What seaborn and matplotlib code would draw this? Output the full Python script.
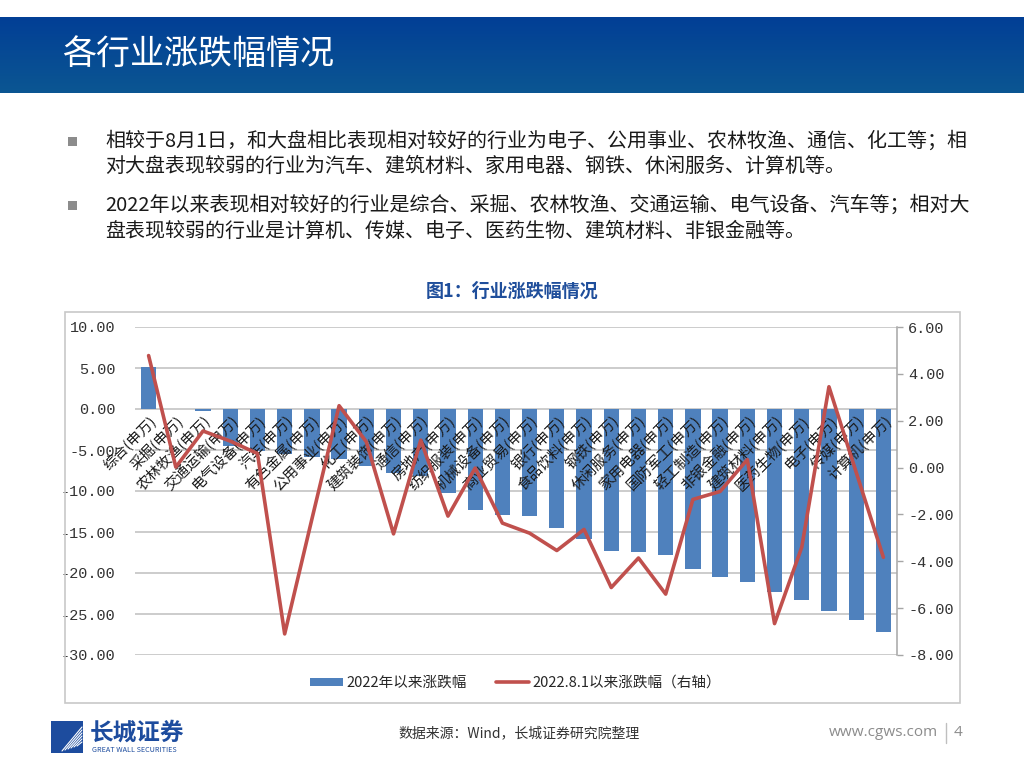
import numpy as np
import pandas as pd
import matplotlib
matplotlib.use("Agg")
import matplotlib.pyplot as plt
from matplotlib.patches import Rectangle
from matplotlib.lines import Line2D
from matplotlib.colors import LinearSegmentedColormap
import seaborn as sns

# ---------------- data ----------------
categories = ['综合', '采掘', '农林牧渔', '交通运输', '电气设备', '汽车', '有色金属', '公用事业',
              '化工', '建筑装饰', '通信', '房地产', '纺织服装', '机械设备', '商业贸易', '银行',
              '食品饮料', '钢铁', '休闲服务', '家用电器', '国防军工', '轻工制造', '非银金融',
              '建筑材料', '医药生物', '电子', '传媒', '计算机']
tick_labels = [c + '(申万)' for c in categories]
chg_2022 = [5.1, 0.05, -0.3, -4.5, -5.1, -5.5, -5.9, -6.1, -7.0, -7.85, -8.15, -10.3,
            -12.3, -12.95, -13.05, -14.55, -15.8, -17.35, -17.45, -17.75, -19.55, -20.5,
            -21.1, -22.3, -23.3, -24.65, -25.75, -27.2]
chg_0801 = [4.78, 0.02, 1.56, 1.13, 0.6, -7.1, -2.2, 2.64, 1.1, -2.83, 1.17, -2.07,
            -0.02, -2.37, -2.8, -3.54, -2.64, -5.12, -3.86, -5.4, -1.36, -1.02, 0.34,
            -6.66, -3.4, 3.45, -0.2, -3.83]
left_ticks = [10, 5, 0, -5, -10, -15, -20, -25, -30]
right_ticks = [6, 4, 2, 0, -2, -4, -6, -8]
series_names = ['2022年以来涨跌幅', '2022.8.1以来涨跌幅（右轴）']

title = '各行业涨跌幅情况'
bullet_lines = [
    ['相较于8月1日，和大盘相比表现相对较好的行业为电子、公用事业、农林牧渔、通信、化工等；相',
     '对大盘表现较弱的行业为汽车、建筑材料、家用电器、钢铁、休闲服务、计算机等。'],
    ['2022年以来表现相对较好的行业是综合、采掘、农林牧渔、交通运输、电气设备、汽车等；相对大',
     '盘表现较弱的行业是计算机、传媒、电子、医药生物、建筑材料、非银金融等。'],
]
fig_caption = '图1：行业涨跌幅情况'
source = '数据来源：Wind，长城证券研究院整理'

BAR_C = '#4f81bd'
LINE_C = '#c0504d'
GRID_C = '#bfbfbf'

sns.set_style('white')
plt.rcParams['font.family'] = ['Noto Sans CJK SC', 'DejaVu Sans']
plt.rcParams['axes.unicode_minus'] = False

W, H = 1024, 768
fig = plt.figure(figsize=(W / 100, H / 100), dpi=100)


def fx(px):
    return px / W


def fy(py):
    return 1 - py / H


# ---------------- header band ----------------
hax = fig.add_axes([0, fy(93), 1, (93 - 17) / H])
grad = np.linspace(0, 1, 100).reshape(-1, 1)
cmap = LinearSegmentedColormap.from_list('hb', ['#023f96', '#0b5692'])
hax.imshow(grad, aspect='auto', cmap=cmap, extent=[0, 1, 0, 1], origin='upper')
hax.set_axis_off()
fig.text(fx(62), fy(55), title, color='white', fontsize=24.5, va='center', ha='left')

# ---------------- bullet text ----------------
ys = [(141, 166), (205, 231)]
for (y1, y2), lines in zip(ys, bullet_lines):
    fig.patches.append(Rectangle((fx(68), fy(y1 + 5)), 9 / W, 9 / H, transform=fig.transFigure,
                                 facecolor='#8c8c8c', edgecolor='none'))
    fig.text(fx(105), fy(y1), lines[0], fontsize=14.4, va='center', ha='left', color='#1a1a1a')
    fig.text(fx(105), fy(y2), lines[1], fontsize=14.4, va='center', ha='left', color='#1a1a1a')

fig.text(fx(512), fy(291), fig_caption, fontsize=13, fontweight='bold', color='#1f4e9b',
         ha='center', va='center')

# chart frame
fig.patches.append(Rectangle((fx(65), fy(703)), (960 - 65) / W, (703 - 312) / H,
                             transform=fig.transFigure, facecolor='none',
                             edgecolor='#c8c8c8', linewidth=1.2))

# ---------------- chart ----------------
ax = fig.add_axes([fx(135), fy(655), (897 - 135) / W, (655 - 327) / H])
pos = np.arange(len(categories))
df = pd.DataFrame({'label': tick_labels, 'v2022': chg_2022, 'v0801': chg_0801, 'pos': pos})
sns.barplot(data=df, x='label', y='v2022', color=BAR_C, saturation=1, width=0.56,
            linewidth=0, ax=ax, zorder=1)
ax.set_ylim(-30, 10)
ax.set_yticks(left_ticks)
ax.set_yticklabels([f'{t:.2f}' for t in left_ticks], fontsize=11, family='Liberation Mono',
                   color='#333333')
ax.yaxis.grid(True, color=GRID_C, linewidth=1.1)
ax.set_axisbelow(True)
ax.xaxis.set_zorder(3)
ax.tick_params(axis='y', length=0, pad=14)
ax.tick_params(axis='x', length=0, pad=3)
for s in ['top', 'left', 'right']:
    ax.spines[s].set_visible(False)
ax.spines['bottom'].set_position(('data', 0))
ax.spines['bottom'].set_color('none')
ax.set_xlabel('')
ax.set_ylabel('')
for lab in ax.get_xticklabels():
    lab.set_rotation(45)
    lab.set_ha('right')
    lab.set_va('top')
    lab.set_rotation_mode('anchor')
    lab.set_fontsize(10.5)
    lab.set_fontweight('light')
    lab.set_color('#1a1a1a')

ax2 = ax.twinx()
sns.lineplot(data=df, x='pos', y='v0801', color=LINE_C, linewidth=2.6, ax=ax2)
ax2.set_ylim(-8, 6)
ax2.set_yticks(right_ticks)
ax2.set_yticklabels([f'{t:.2f}' for t in right_ticks], fontsize=11, family='Liberation Mono',
                    color='#333333')
ax2.tick_params(axis='y', length=4, width=1, color='#a6a6a6', pad=4, direction='out')
for s in ['top', 'left', 'bottom']:
    ax2.spines[s].set_visible(False)
ax2.spines['right'].set_color('#a6a6a6')
ax2.spines['right'].set_linewidth(1.1)
ax2.set_ylabel('')
ax2.set_xlabel('')
ax2.grid(False)
ax.set_xlim(-0.5, len(categories) - 0.5)

handles = [Rectangle((0, 0), 1, 1, facecolor=BAR_C, edgecolor='none'),
           Line2D([0], [0], color=LINE_C, linewidth=2.6)]
fig.legend(handles, series_names, loc='center', bbox_to_anchor=(fx(516), fy(683)),
           ncol=2, frameon=False, fontsize=10.5, handlelength=2.2, handleheight=0.5,
           columnspacing=2.0, handletextpad=0.3)

# ---------------- footer ----------------
fig.patches.append(Rectangle((fx(51), fy(753)), 32 / W, 32 / H, transform=fig.transFigure,
                             facecolor='#1d4c9e', edgecolor='none'))
for k in range(6):
    fig.lines.append(Line2D([fx(62 + k * 3), fx(82)], [fy(751 - k), fy(727 + k * 3)],
                            transform=fig.transFigure, color='white', linewidth=0.8))
fig.text(fx(90), fy(733), '长城证券', fontsize=17, fontweight='bold', color='#1d4c9e',
         ha='left', va='center')
fig.text(fx(92), fy(750), 'GREAT WALL SECURITIES', fontsize=5.2, color='#1d4c9e',
         ha='left', va='center')
fig.text(fx(398), fy(733), source, fontsize=10, color='#333333', ha='left', va='center')
fig.text(fx(938), fy(733), 'www.cgws.com', fontsize=11, color='#8c8c8c', ha='right',
         va='center', family='Open Sans')
fig.lines.append(Line2D([fx(946), fx(946)], [fy(723), fy(743)], transform=fig.transFigure,
                        color='#bfbfbf', linewidth=1))
fig.text(fx(958), fy(733), '4', fontsize=11, color='#8c8c8c', ha='center', va='center',
         family='Open Sans')

fig.savefig('out.png', dpi=100)
